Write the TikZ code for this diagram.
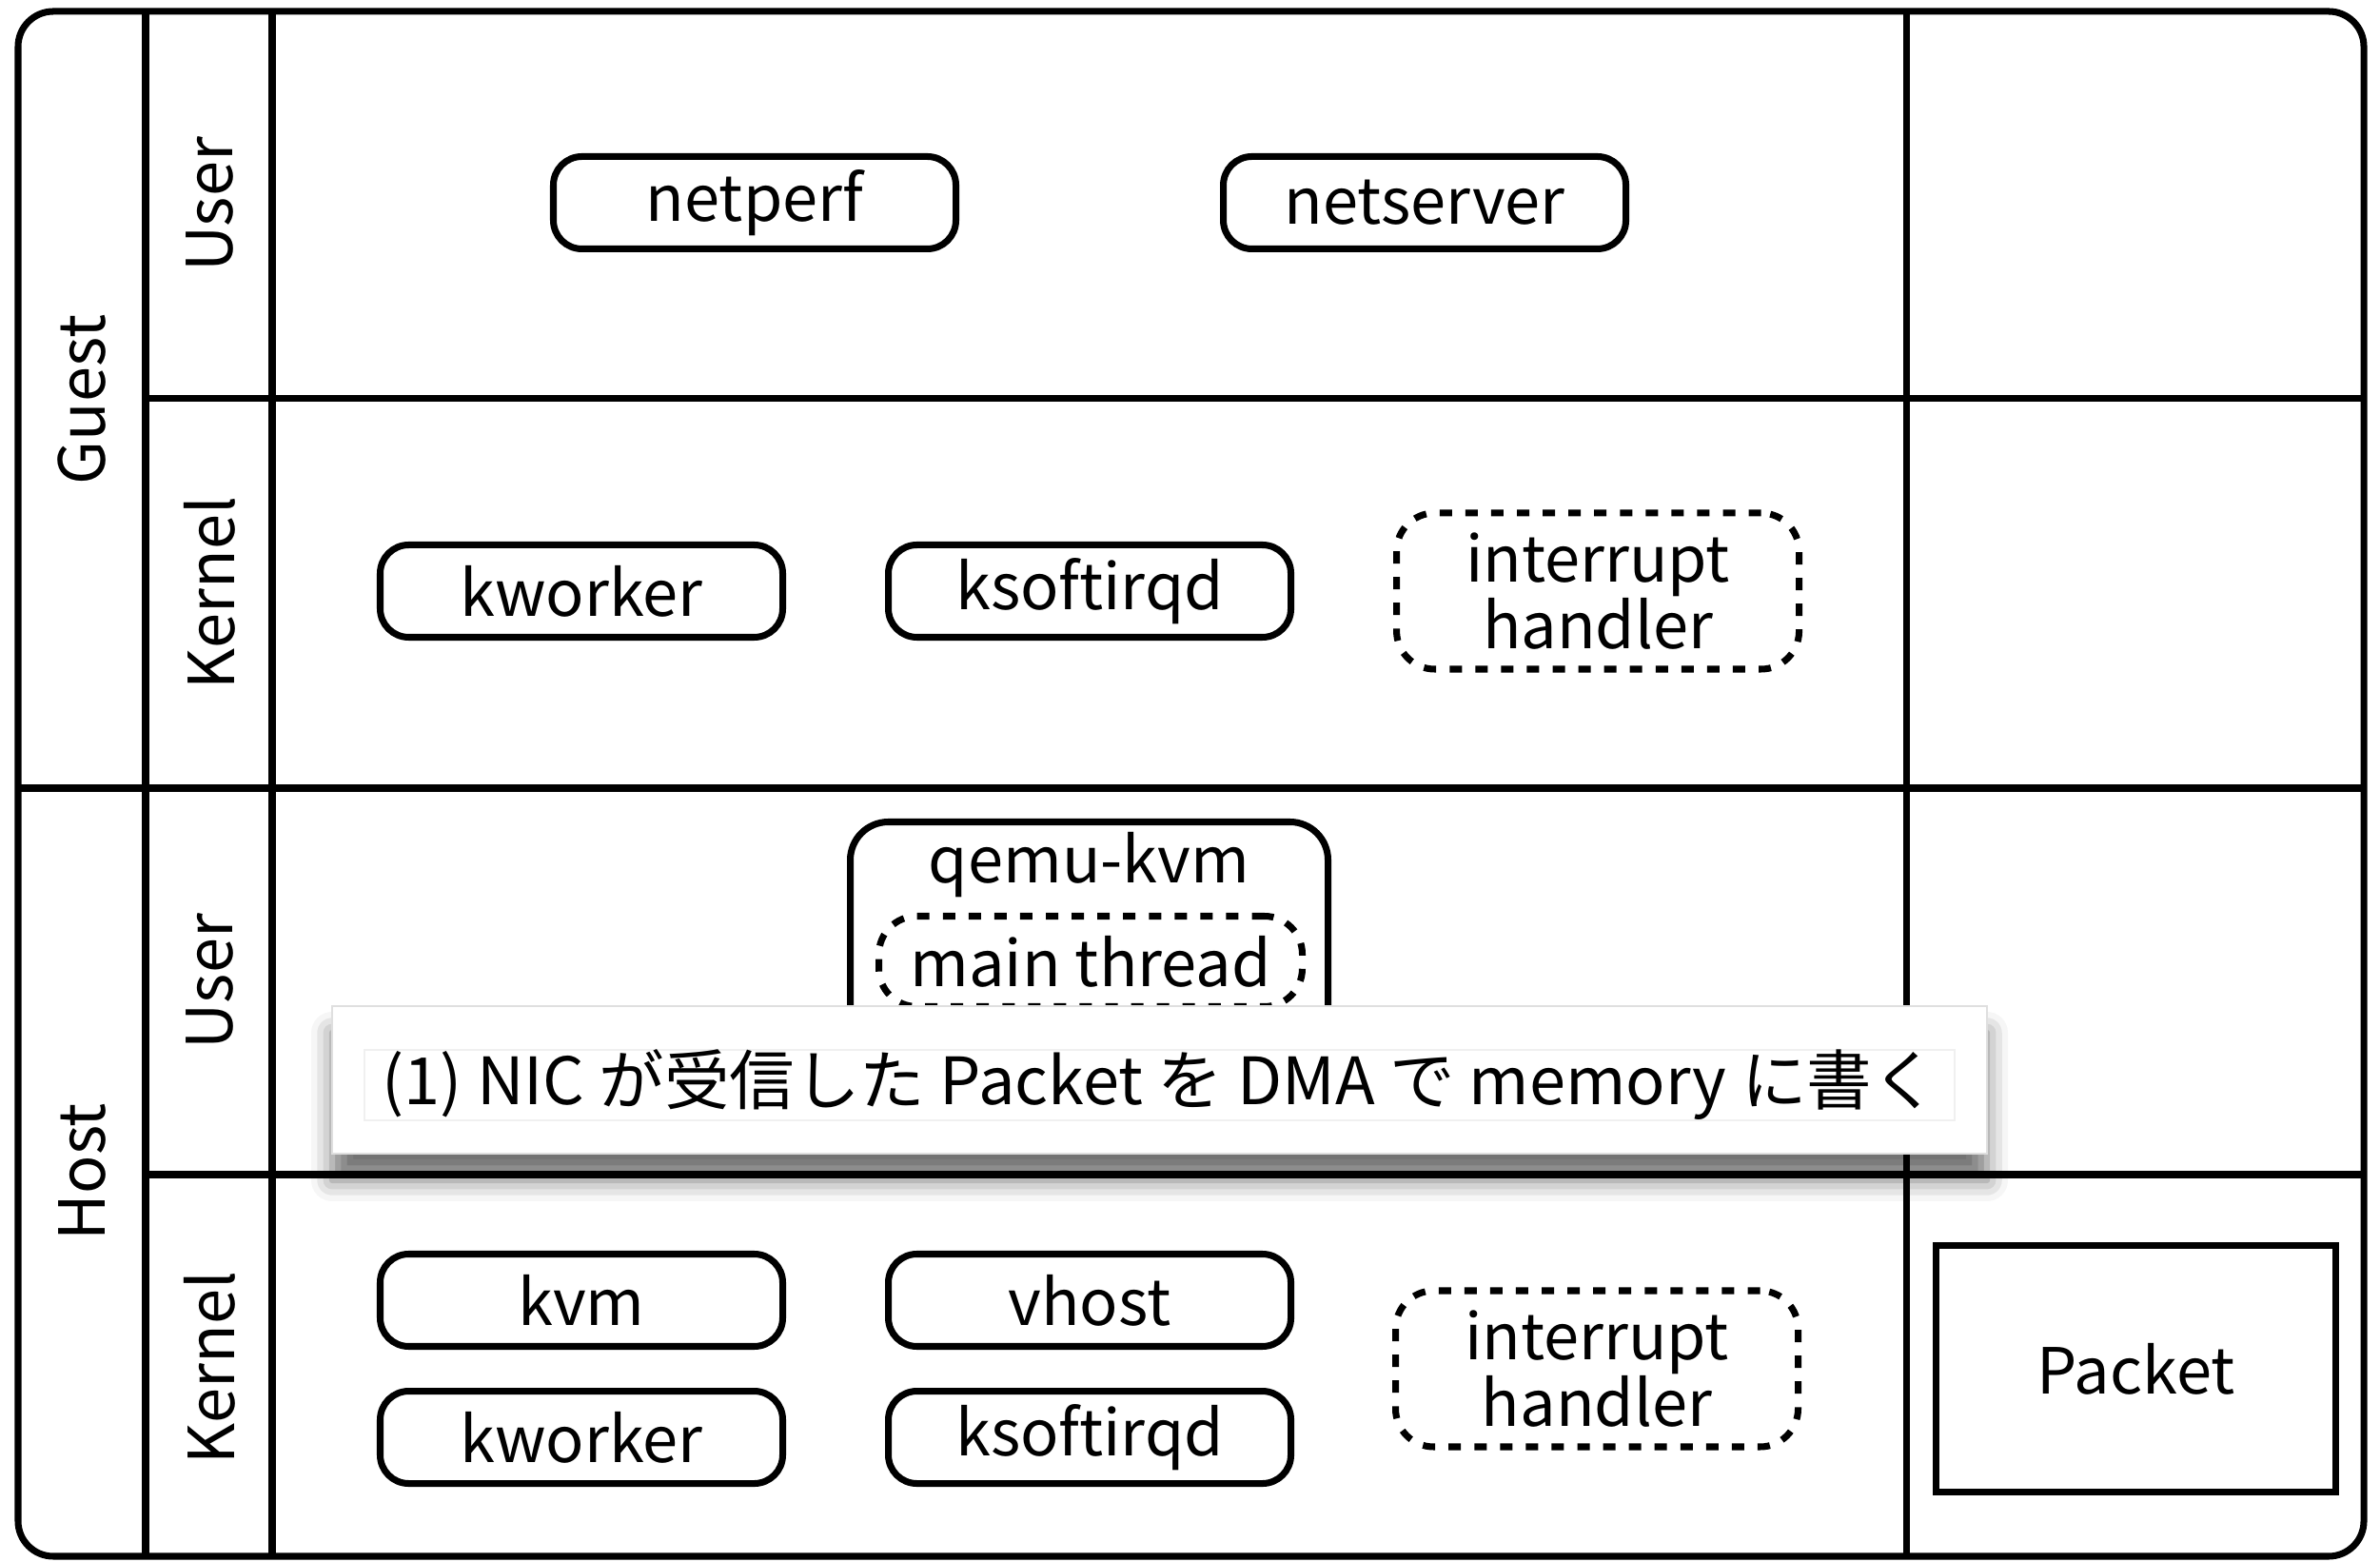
\documentclass[tikz,border=0pt]{standalone}
\usepackage{fontspec}
\setmainfont{Noto Sans CJK JP}
\usetikzlibrary{positioning, shadows.blur}

\begin{document}
\begin{tikzpicture}[
    node distance=1.04cm,
    divider/.style={
        line width=2pt
    },
    lane/.style={
        rotate=90,
        font=\fontsize{19pt}{20pt}\selectfont
    },
    proc/.style={
        rectangle,
        draw,
        fill=white,
        line width=2pt,
        rounded corners=0.3cm,
        minimum width=4.23cm,
        minimum height=0.97cm,
        inner sep=0pt,
        font=\fontsize{19pt}{20pt}\selectfont
    },
    handler/.style={
        proc,
        dash pattern=on 3.7pt off 4pt,
        rounded corners=0.4cm,
        minimum height=1.64cm,
        align=center
    },
    note/.style={
        rectangle,
        draw=gray!25,
        fill=white,
        line width=0.4pt,
        minimum width=17.39cm,
        minimum height=1.55cm,
        blur shadow={shadow xshift=0cm, shadow yshift=-0.28cm, shadow blur radius=0.22cm, shadow opacity=55}
    },
    notetext/.style={
        rectangle,
        draw=gray!12,
        line width=0.4pt,
        minimum width=16.71cm,
        minimum height=0.72cm,
        inner sep=0pt,
        font=\fontsize{19.5pt}{20pt}\selectfont
    }
]
    \useasboundingbox (0,0) rectangle (25.01,16.40);

    % lanes
    \draw[divider, rounded corners=0.37cm] (0.19,0.05) rectangle (24.84,16.28);
    \draw[divider] (1.53,0.05) -- (1.53,16.28);
    \draw[divider] (2.86,0.05) -- (2.86,16.28);
    \draw[divider] (20.03,0.05) -- (20.03,16.28);
    \draw[divider] (1.53,12.21) -- (24.84,12.21);
    \draw[divider] (0.19,8.12) -- (24.84,8.12);
    \draw[divider] (1.53,4.06) -- (24.84,4.06);

    \node[lane] (guest) at (0.86,12.20) {Guest};
    \node[lane] (host) at (0.86,4.09) {Host};
    \node[lane] (guser) at (2.20,14.25) {User};
    \node[lane] (gkernel) at (2.20,10.17) {Kernel};
    \node[lane] (huser) at (2.20,6.09) {User};
    \node[lane] (hkernel) at (2.20,2.03) {Kernel};

    % guest
    \node[proc] (netperf) at (7.93,14.27) {netperf};
    \node[proc, right=2.74cm of netperf] (netserver) {netserver};

    \node[proc] (gkworker) at (6.11,10.19) {kworker};
    \node[proc, right=of gkworker] (gksoftirqd) {ksoftirqd};
    \node[handler, right=of gksoftirqd] (girq) {interrupt\\handler};

    % host
    \node[proc, anchor=north, minimum width=5.02cm, minimum height=2.6cm, rounded corners=0.4cm] (qemu) at (11.445,7.80) {};
    \node[lane, rotate=-90] (qemutitle) at (11.445,7.31) {qemu-kvm};
    \node[handler, minimum width=4.45cm, minimum height=0.95cm] (mainthread) at (11.46,6.30) {main thread};

    \node[proc] (kvm) at (6.11,2.74) {kvm};
    \node[proc, right=of kvm] (vhost) {vhost};
    \node[proc, below=0.4cm of kvm] (hkworker) {kworker};
    \node[proc, right=of hkworker] (hksoftirqd) {ksoftirqd};
    \node[handler] (hirq) at (16.78,2.02) {interrupt\\handler};

    \node[proc, rounded corners=0pt, minimum width=4.20cm, minimum height=2.59cm] (packet) at (22.445,2.02) {Packet};

    % step
    \node[note] (step) at (12.185,5.055) {};
    \node[notetext] (steptext) at (12.185,5.00) {(1) NIC が受信した Packet を DMA で memory に書く};
\end{tikzpicture}
\end{document}
